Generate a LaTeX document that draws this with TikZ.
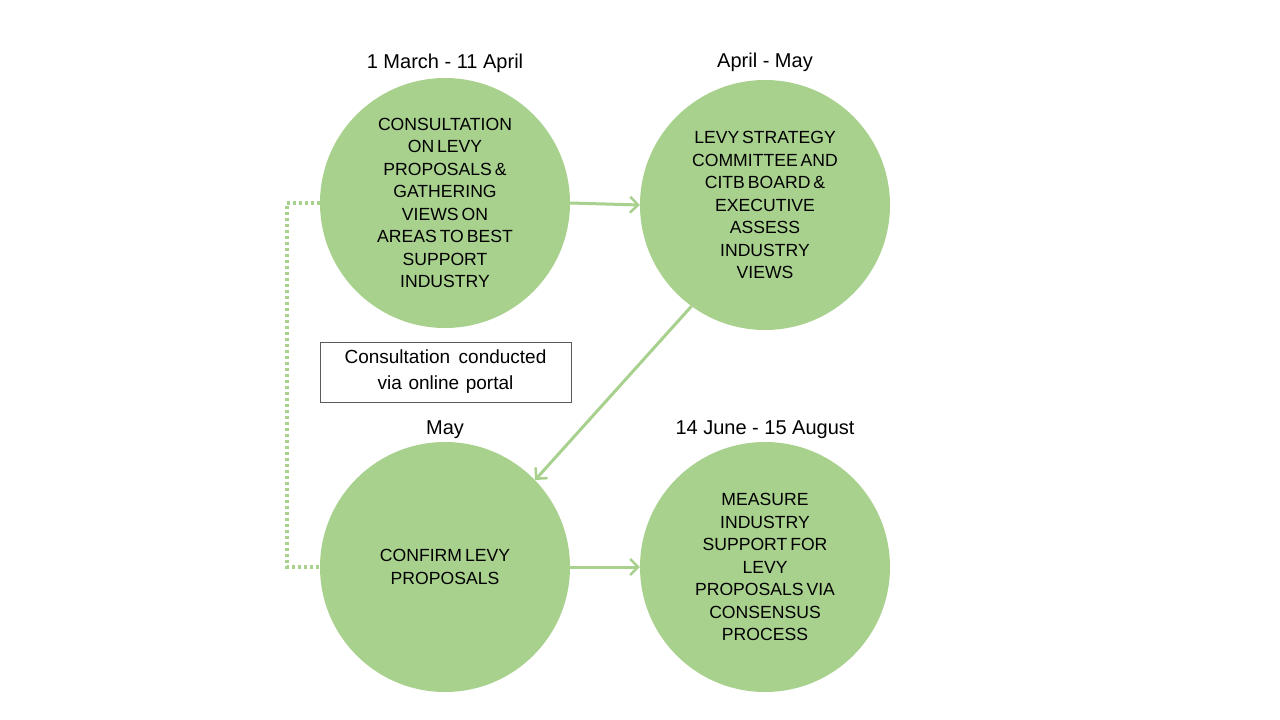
\documentclass[tikz,border=0pt]{standalone}
\usepackage{fontspec}
\setmainfont{Liberation Sans}
\newfontfamily\circfont{Liberation Sans}[WordSpace=0.6]
\usetikzlibrary{arrows.meta}
\definecolor{leaf}{HTML}{A9D18E}
\definecolor{boxline}{HTML}{595959}
\begin{document}
\begin{tikzpicture}[x=1pt,y=-1pt,
  stage/.style={circle,fill=leaf,draw=none,minimum size=250pt,inner sep=0pt,
    align=center,font=\circfont\fontsize{17.6}{22.5}\selectfont},
  datelabel/.style={anchor=base,font=\fontsize{20}{24}\selectfont},
  flow/.style={draw=leaf,line width=3pt,-{Straight Barb[length=8pt,width=16pt,line width=2.5pt]}},
  portal/.style={draw=leaf,line width=3.5pt,dash pattern=on 3pt off 3pt},
  notebox/.style={draw=boxline,line width=0.9pt,minimum width=251pt,minimum height=60pt,
    align=center,inner sep=0pt,font=\fontsize{19}{26}\selectfont}]
\useasboundingbox[fill=white] (0,0) rectangle (1280,720);

\node[stage] (c1) at (445,203) {CONSULTATION\\ON LEVY\\PROPOSALS \&\\GATHERING\\VIEWS ON\\AREAS TO BEST\\SUPPORT\\INDUSTRY};
\node[stage] (c2) at (765,205) {LEVY STRATEGY\\COMMITTEE AND\\CITB BOARD \&\\EXECUTIVE\\ASSESS\\INDUSTRY\\VIEWS};
\node[stage] (c3) at (445,567) {CONFIRM LEVY\\PROPOSALS};
\node[stage] (c4) at (765,567) {MEASURE\\INDUSTRY\\SUPPORT FOR\\LEVY\\PROPOSALS VIA\\CONSENSUS\\PROCESS};

\node[datelabel] (l1) at (445,68) {1 March - 11 April};
\node[datelabel] (l2) at (765,67) {April - May};
\node[datelabel] (l3) at (445,434) {May};
\node[datelabel] (l4) at (765,434) {14 June - 15 August};

\node[notebox] (note) at (445.5,372) {Consultation\hspace{0.45em}conducted\\via\hspace{0.35em}online\hspace{0.35em}portal};

\draw[flow] (c1.east) -- (c2.west);
\draw[flow] (c2.234) -- (c3.44);
\draw[flow] (c3.east) -- (c4.west);
\draw[portal] (c1.west) -- ++(-33,0) |- (c3.west);
\end{tikzpicture}
\end{document}
